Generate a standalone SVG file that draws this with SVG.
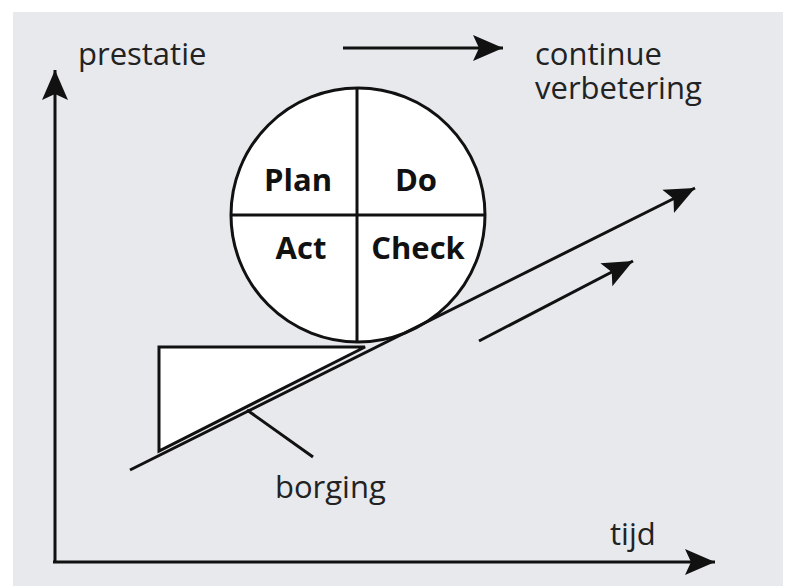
<svg xmlns="http://www.w3.org/2000/svg" width="796" height="586" viewBox="0 0 796 586">
<style>
.ln{stroke:#111;stroke-width:3;fill:none}
.t{font-family:"Open Sans","Noto Sans",sans-serif;font-size:31px;fill:#222}
.b{font-family:"Open Sans","Noto Sans",sans-serif;font-size:31px;font-weight:bold;fill:#111;text-anchor:middle}
</style>
<defs>
<marker id="ah" markerUnits="userSpaceOnUse" markerWidth="34" markerHeight="30" viewBox="-30 -14 34 28" refX="0" refY="0" orient="auto">
<path d="M0,0 L-30,-13 L-24,0 L-30,13 Z" fill="#111"/>
</marker>
</defs>
<rect x="0" y="0" width="796" height="586" fill="#fff"/>
<rect x="13" y="12" width="770" height="574" fill="#e7e9ed"/>
<g id="axes">
<path class="ln" d="M55,562 L55,70" marker-end="url(#ah)"/>
<path class="ln" d="M53,562 L715,562" marker-end="url(#ah)"/>
</g>
<g id="wedge">
<path d="M159,347 L365,347 L159,451 Z" fill="#fff" stroke="#111" stroke-width="3" stroke-linejoin="miter"/>
</g>
<g id="pdca">
<circle cx="358" cy="215" r="127" fill="#fff" stroke="#111" stroke-width="3"/>
<line x1="231" y1="215" x2="485" y2="215" stroke="#111" stroke-width="3"/>
<line x1="357" y1="88" x2="357" y2="342" stroke="#111" stroke-width="3"/>
<text class="b" x="298" y="191">Plan</text>
<text class="b" x="416" y="191">Do</text>
<text class="b" x="301" y="259">Act</text>
<text class="b" x="418" y="259">Check</text>
</g>
<g id="connectors">
<path class="ln" d="M130,470 L695,188" marker-end="url(#ah)"/>
<path class="ln" d="M479,341 L633,261" marker-end="url(#ah)"/>
<path class="ln" d="M343,48 L503,48" marker-end="url(#ah)"/>
<path class="ln" d="M247,410 L313,457"/>
</g>
<g id="labels">
<text class="t" x="78" y="65">prestatie</text>
<text class="t" x="535" y="65">continue</text>
<text class="t" x="535" y="99">verbetering</text>
<text class="t" x="275" y="498">borging</text>
<text class="t" x="610" y="545">tijd</text>
</g>
</svg>
